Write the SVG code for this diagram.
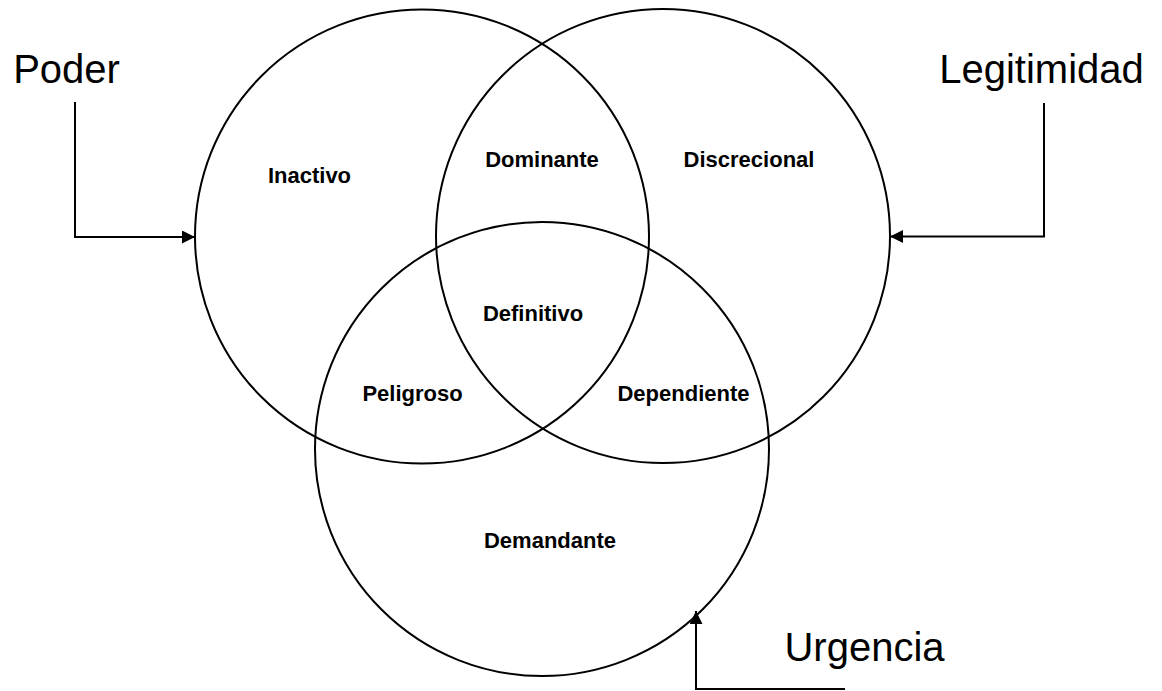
<svg xmlns="http://www.w3.org/2000/svg" width="1162" height="691" viewBox="0 0 1162 691">
<style>
.circ{fill:none;stroke:#000;stroke-width:2}
.conn{fill:none;stroke:#000;stroke-width:2}
.big{font-family:"Liberation Sans",Arial,sans-serif;font-size:40px;fill:#000;text-anchor:middle}
.lbl{font-family:"Liberation Sans",Arial,sans-serif;font-size:22px;font-weight:bold;fill:#000;text-anchor:middle}
</style>
<defs>
<marker id="arr" markerUnits="userSpaceOnUse" markerWidth="13" markerHeight="13" refX="13" refY="6.5" orient="auto">
<path d="M0,0 L13,6.5 L0,13 z" fill="#000"/>
</marker>
</defs>
<rect width="1162" height="691" fill="#fff"/>
<g id="circle-poder"><circle class="circ" cx="422" cy="236.5" r="227"/></g>
<g id="circle-legitimidad"><circle class="circ" cx="663" cy="236" r="227"/></g>
<g id="circle-urgencia"><circle class="circ" cx="542" cy="449" r="227"/></g>
<g id="connectors">
<path class="conn" d="M75,102 V237 H195" marker-end="url(#arr)"/>
<path class="conn" d="M1044,103 V236.5 H890" marker-end="url(#arr)"/>
<path class="conn" d="M845,689 H696 V611" marker-end="url(#arr)"/>
</g>
<g id="label-poder"><text class="big" x="66.5" y="83">Poder</text></g>
<g id="label-legitimidad"><text class="big" x="1041.5" y="83">Legitimidad</text></g>
<g id="label-urgencia"><text class="big" x="864.5" y="661">Urgencia</text></g>
<g id="region-inactivo"><text class="lbl" x="309.5" y="183">Inactivo</text></g>
<g id="region-dominante"><text class="lbl" x="542" y="167">Dominante</text></g>
<g id="region-discrecional"><text class="lbl" x="749" y="167">Discrecional</text></g>
<g id="region-definitivo"><text class="lbl" x="533" y="321">Definitivo</text></g>
<g id="region-peligroso"><text class="lbl" x="412.5" y="401">Peligroso</text></g>
<g id="region-dependiente"><text class="lbl" x="683.5" y="401">Dependiente</text></g>
<g id="region-demandante"><text class="lbl" x="550" y="548">Demandante</text></g>
</svg>
